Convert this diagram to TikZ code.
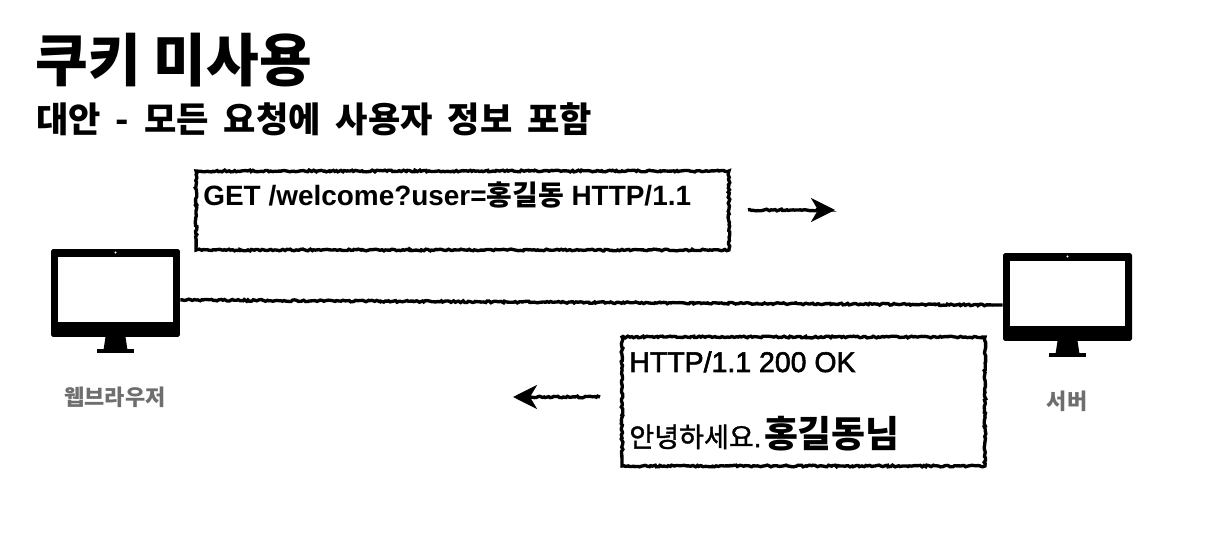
\documentclass[tikz,border=0pt]{standalone}
\usepackage{fontspec}
\usetikzlibrary{arrows.meta,decorations.pathmorphing}
\setmainfont{Liberation Sans}
\newfontfamily\krfont{Noto Sans CJK KR}
\newfontfamily\krmedium{Noto Sans CJK KR}[FakeBold=1.4]
\newfontfamily\latmedium{Liberation Sans}[FakeBold=2]
\definecolor{labelgray}{RGB}{110,110,110}
\tikzset{
  sketch/.style={black,line width=1.9pt,decorate,decoration={random steps,segment length=1.1pt,amplitude=0.5pt,post=lineto,post length=5pt}},
  sketchbox/.style={draw,sketch,fill=white},
  sketcharrow/.style={sketch,-{Stealth[length=0.48cm,width=0.48cm,inset=0.14cm]}},
  monitorbody/.style={fill=black,rounded corners=1pt,minimum width=2.58cm,minimum height=1.76cm},
  monitorscreen/.style={fill=white,minimum width=2.29cm,minimum height=1.3cm},
  labeltext/.style={text=labelgray,font=\krfont\bfseries\fontsize{12.5pt}{15pt}\selectfont},
  msgtext/.style={anchor=base west,font=\bfseries\fontsize{15.9pt}{18pt}\selectfont}
}
\newcommand{\monitor}[3]{
  \node [monitorbody] (#1) at (#2,#3) {};
  \node [monitorscreen] (#1screen) at (#2,#3-3.5) {};
  \fill [white] (#2,#3-40.5) circle (1.2);
  \fill [black] (#2-10,#3+44) -- (#2+10,#3+44) -- (#2+12,#3+57) -- (#2-12,#3+57) -- cycle;
  \fill [black] (#2-18.5,#3+56) rectangle (#2+18.5,#3+60);
}
\begin{document}
\begin{tikzpicture}[x=0.02cm,y=-0.02cm]
\tikzstyle{every node}+=[inner sep=0pt]
\pgfmathsetseed{7}
\useasboundingbox (0,0) rectangle (1212,536);
\node [anchor=base west,font=\krfont\bfseries\fontsize{32.6pt}{36pt}\selectfont] (title) at (35,82) {쿠키 미사용};
\node [anchor=base west,font=\krfont\bfseries\fontsize{20pt}{24pt}\selectfont] (subtitle) at (36,133) {\spaceskip=8.5pt 대안 - 모든 요청에 사용자 정보 포함};
\monitor{browser}{115.5}{293}
\monitor{server}{1067.5}{297}
\node [labeltext] (browserlabel) at (115,397) {웹브라우저};
\node [labeltext] (serverlabel) at (1067,401) {서버};
\draw [sketch] ([yshift=-0.14cm]browser.east) -- ([yshift=-0.16cm]server.west);
\node [sketchbox,minimum width=10.66cm,minimum height=1.58cm] (request) at (462.5,210.5) {};
\node [sketchbox,minimum width=7.26cm,minimum height=2.58cm] (response) at (803.5,401.5) {};
\node [msgtext] (requestline) at (203,206) {GET /welcome?user={\krfont 홍길동} HTTP/1.1};
\node [msgtext,font=\latmedium\fontsize{16.2pt}{18pt}\selectfont] (statusline) at (629,372) {HTTP/1.1 200 OK};
\node [msgtext,font=\latmedium\fontsize{15.4pt}{18pt}\selectfont] (greeting) at (629,447) {{\krmedium 안녕하세요}.\hspace{0.1em}{\krfont\bfseries\fontsize{21pt}{24pt}\selectfont 홍길동님}};
\coordinate (reqstart) at (748,210);
\coordinate (reqend) at (835,210);
\coordinate (resstart) at (600,397);
\coordinate (resend) at (513,397);
\draw [sketcharrow] (reqstart) -- (reqend);
\draw [sketcharrow] (resstart) -- (resend);
\end{tikzpicture}
\end{document}
